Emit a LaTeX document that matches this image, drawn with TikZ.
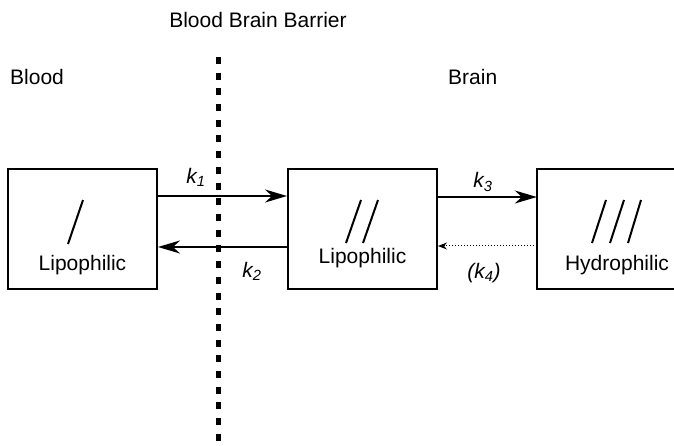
\documentclass[tikz,border=0pt]{standalone}
\usepackage{fontspec}
\setmainfont{Liberation Sans}
\usetikzlibrary{arrows.meta}
\begin{document}
\begin{tikzpicture}[x=1pt,y=-1pt,
  every node/.style={font=\fontsize{21}{25}\selectfont, inner sep=0pt},
  box/.style={draw, line width=2pt, minimum width=149pt, minimum height=120pt},
  openbox/.style={minimum width=140pt, minimum height=120pt},
  flow/.style={line width=2pt, -{Stealth[length=22pt,width=13pt,inset=7pt]}},
  backflow/.style={line width=1pt, dotted, -{Stealth[length=9pt,width=7pt,inset=3pt]}},
  slash/.style={line width=2pt},
  barrier/.style={line width=5pt, dash pattern=on 7pt off 8.7pt},
  rate/.style={font=\fontsize{21}{25}\selectfont\itshape}]
\useasboundingbox (0,0) rectangle (674,446);
% title and regions
\node (title) at (258,20) {Blood Brain Barrier};
\node[anchor=west] (blood) at (10,77) {Blood};
\node[anchor=west] (brain) at (448,77) {Brain};
% barrier
\coordinate (btop) at (218,57);
\coordinate (bbot) at (218,446);
\draw[barrier] (btop) -- (bbot);
% boxes
\node[box] (b1) at (82.5,229) {};
\node[box] (b2) at (362.5,229) {};
\node[openbox] (b3) at (607,229) {};
\draw[line width=2pt] (b3.north east) -- (b3.north west) -- (b3.south west) -- (b3.south east);
% slashes and labels
\draw[slash] (83,200) -- (68,244);
\node (l1) at (82.5,265) {Lipophilic};
\draw[slash] (361,200) -- (346,243);
\draw[slash] (378,200) -- (363,243);
\node (l2) at (362.5,258) {Lipophilic};
\draw[slash] (606,200) -- (592,243);
\draw[slash] (624,200) -- (610,243);
\draw[slash] (641,200) -- (628,243);
\node (l3) at (617,265) {Hydrophilic};
% connectors
\coordinate (b1a) at (b1.east |- 0,196);
\coordinate (b2a) at (b2.west |- 0,196);
\coordinate (b1b) at (b1.east |- 0,247);
\coordinate (b2b) at (b2.west |- 0,247);
\coordinate (b2c) at (b2.east |- 0,197);
\coordinate (b3c) at (b3.west |- 0,197);
\coordinate (b2d) at (b2.east |- 0,246);
\coordinate (b3d) at (b3.west |- 0,246);
\draw[flow] (b1a) -- (b2a);
\draw[flow] (b2b) -- (b1b);
\draw[flow] (b2c) -- (b3c);
\draw[backflow] (b3d) -- (b2d);
% rate labels
\node[rate] (k1) at (196,177) {k\textsubscript{1}};
\node[rate] (k2) at (252,271) {k\textsubscript{2}};
\node[rate] (k3) at (483,182) {k\textsubscript{3}};
\node[rate] (k4) at (484,273) {(k\textsubscript{4})};
\end{tikzpicture}
\end{document}
